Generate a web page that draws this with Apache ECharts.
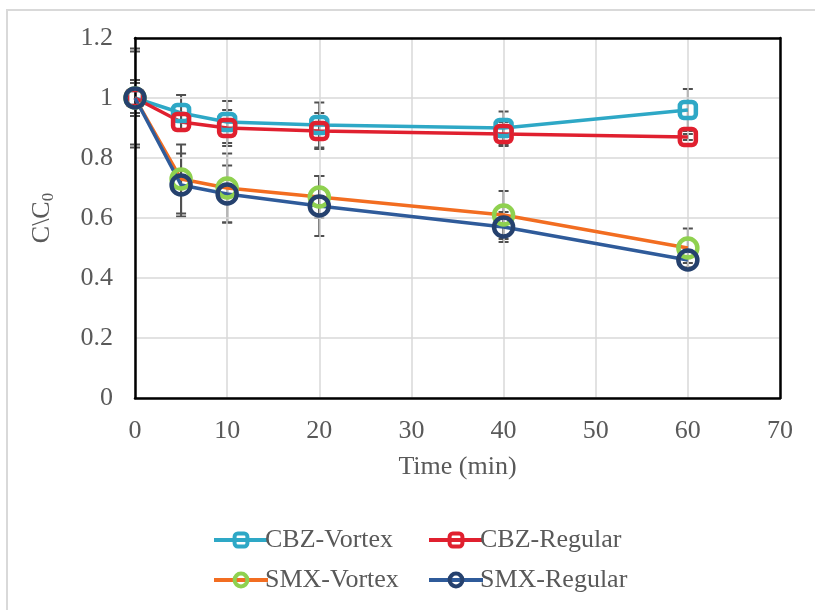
<!DOCTYPE html>
<html>
<head>
<meta charset="utf-8">
<script src="https://cdn.jsdelivr.net/npm/echarts@6/dist/echarts.min.js"></script>
<style>html,body{margin:0;padding:0;background:#fff}#c{width:815px;height:610px}</style>
</head>
<body>
<div id="c"></div>
<script>
const times = [0, 5, 10, 20, 40, 60];
const seriesNames = ['CBZ-Vortex', 'CBZ-Regular', 'SMX-Vortex', 'SMX-Regular'];
const cbzVortex = [1.00, 0.95, 0.92, 0.91, 0.90, 0.96];
const cbzRegular = [1.00, 0.92, 0.90, 0.89, 0.88, 0.87];
const smxVortex = [1.00, 0.73, 0.70, 0.67, 0.61, 0.50];
const smxRegular = [1.00, 0.71, 0.68, 0.64, 0.57, 0.46];
const cbzVortexErr = [0.05, 0.06, 0.07, 0.075, 0.055, 0.07];
const cbzRegularErr = [0.06, 0.03, 0.06, 0.06, 0.04, 0.01];
const smxVortexErr = [0.155, 0.115, 0.115, 0.07, 0.08, 0.065];
const smxRegularErr = [0.165, 0.105, 0.095, 0.10, 0.05, 0.01];
const xTicks = [0, 10, 20, 30, 40, 50, 60, 70];
const yTicks = [0, 0.2, 0.4, 0.6, 0.8, 1.0, 1.2];

const values = [cbzVortex, cbzRegular, smxVortex, smxRegular];
const errs = [cbzVortexErr, cbzRegularErr, smxVortexErr, smxRegularErr];
const lineColors = ['#2EA8C6', '#E0202F', '#F26D21', '#2F5B9A'];
const markColors = ['#2EA8C6', '#E0202F', '#8FD14F', '#25416E'];
const symbols = ['roundRect', 'roundRect', 'circle', 'circle'];
const symSizes = [16, 16, 19, 19];

const font = '"Liberation Serif", "Times New Roman", serif';
const txt = '#595959';
const fs = 26;

const errData = [];
values.forEach((v, s) => {
  v.forEach((y, i) => errData.push([times[i], y - errs[s][i], y + errs[s][i]]));
});

const lineSeries = values.map((v, s) => ({
  name: seriesNames[s],
  type: 'line',
  z: 3,
  data: v.map((y, i) => [times[i], y]),
  symbol: symbols[s],
  symbolSize: symSizes[s],
  showAllSymbol: true,
  lineStyle: { color: lineColors[s], width: 3.5 },
  itemStyle: { color: 'rgba(255,255,255,0)', borderColor: markColors[s], borderWidth: 4.5 },
  emphasis: { disabled: true },
  animation: false
}));

const errSeries = {
  type: 'custom',
  z: 1,
  silent: true,
  animation: false,
  data: errData,
  renderItem: function (params, api) {
    const x = api.value(0);
    const lo = api.coord([x, api.value(1)]);
    const hi = api.coord([x, api.value(2)]);
    const w = 5;
    const st = { stroke: '#505050', lineWidth: 2, fill: null };
    return {
      type: 'group',
      children: [
        { type: 'line', shape: { x1: lo[0], y1: lo[1], x2: hi[0], y2: hi[1] }, style: st },
        { type: 'line', shape: { x1: lo[0] - w, y1: lo[1], x2: lo[0] + w, y2: lo[1] }, style: st },
        { type: 'line', shape: { x1: hi[0] - w, y1: hi[1], x2: hi[0] + w, y2: hi[1] }, style: st }
      ]
    };
  }
};

const legendCommon = {
  orient: 'vertical',
  itemWidth: 54,
  itemHeight: 16,
  itemGap: 14,
  lineStyle: { width: 4 },
  itemStyle: { borderWidth: 4 },
  textStyle: { fontFamily: font, fontSize: fs, color: txt, padding: [0, 0, 0, -8] },
  selectedMode: false
};

const boxAxis = {
  type: 'value',
  axisLine: { show: true, onZero: false, lineStyle: { color: '#000', width: 2.5 } },
  axisTick: { show: false },
  axisLabel: { show: false },
  splitLine: { show: false }
};

const chart = echarts.init(document.getElementById('c'), null, { renderer: 'canvas' });
chart.setOption({
  animation: false,
  backgroundColor: '#fff',
  graphic: [{
    type: 'rect',
    shape: { x: 7, y: 10, width: 900, height: 700 },
    style: { fill: null, stroke: '#D9D9D9', lineWidth: 2 },
    silent: true
  }],
  grid: { left: 135, top: 38, right: 35, bottom: 212 },
  xAxis: [{
    type: 'value',
    min: xTicks[0],
    max: xTicks[xTicks.length - 1],
    interval: 10,
    name: 'Time (min)',
    nameLocation: 'middle',
    nameGap: 56,
    nameTextStyle: { fontFamily: font, fontSize: fs, color: txt },
    axisLine: { show: true, lineStyle: { color: '#000', width: 2.5 } },
    axisTick: { show: false },
    axisLabel: { fontFamily: font, fontSize: fs, color: txt, margin: 20 },
    splitLine: { show: true, lineStyle: { color: '#D9D9D9', width: 1.5 } },
    z: 2
  }, Object.assign({}, boxAxis, { position: 'top', min: xTicks[0], max: xTicks[xTicks.length - 1], z: 5 })],
  yAxis: [{
    type: 'value',
    min: yTicks[0],
    max: yTicks[yTicks.length - 1],
    interval: 0.2,
    name: 'C\\C{sub|0}',
    nameLocation: 'middle',
    nameRotate: 90,
    nameGap: 78,
    nameTextStyle: {
      fontFamily: font, fontSize: fs, color: txt,
      rich: { sub: { fontFamily: font, fontSize: 17, color: txt, padding: [12, 0, 0, 0] } }
    },
    axisLine: { show: true, lineStyle: { color: '#000', width: 2.5 } },
    axisTick: { show: false },
    axisLabel: {
      fontFamily: font, fontSize: fs, color: txt, margin: 22,
      formatter: function (v) { return String(Math.round(v * 10) / 10); }
    },
    splitLine: { show: true, lineStyle: { color: '#D9D9D9', width: 1.5 } },
    z: 2
  }, Object.assign({}, boxAxis, { position: 'right', min: yTicks[0], max: yTicks[yTicks.length - 1], z: 5 })],
  legend: [
    Object.assign({}, legendCommon, { left: 207, top: 522, data: [seriesNames[0], seriesNames[2]] }),
    Object.assign({}, legendCommon, { left: 422, top: 522, data: [seriesNames[1], seriesNames[3]] })
  ],
  series: [errSeries].concat(lineSeries)
});
</script>
</body>
</html>
